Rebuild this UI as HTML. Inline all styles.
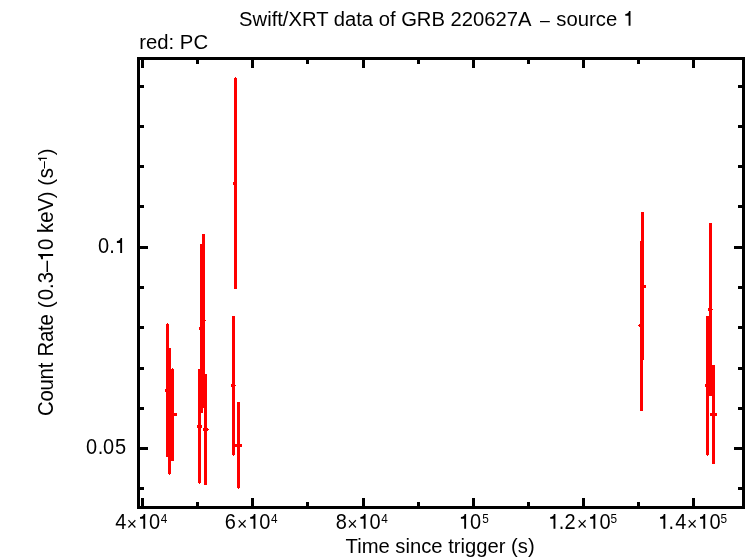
<!DOCTYPE html>
<html><head><meta charset="utf-8"><title>Swift/XRT light curve</title>
<style>
html,body{margin:0;padding:0;background:#fff;}
svg{display:block;will-change:transform;}
text{font-family:"Liberation Sans",sans-serif;fill:#000;}
</style></head>
<body>
<svg width="746" height="558" viewBox="0 0 746 558">
<rect x="0" y="0" width="746" height="558" fill="#fff"/>
<g shape-rendering="crispEdges">
<rect x="137" y="57" width="3" height="452" fill="#000"/>
<rect x="742" y="57" width="3" height="452" fill="#000"/>
<rect x="137" y="57" width="608" height="3" fill="#000"/>
<rect x="137" y="506" width="608" height="3" fill="#000"/>
<rect x="141" y="57" width="3" height="11" fill="#000"/>
<rect x="141" y="498" width="3" height="11" fill="#000"/>
<rect x="196" y="57" width="3" height="7" fill="#000"/>
<rect x="196" y="502" width="3" height="7" fill="#000"/>
<rect x="251" y="57" width="3" height="11" fill="#000"/>
<rect x="251" y="498" width="3" height="11" fill="#000"/>
<rect x="306" y="57" width="3" height="7" fill="#000"/>
<rect x="306" y="502" width="3" height="7" fill="#000"/>
<rect x="362" y="57" width="3" height="11" fill="#000"/>
<rect x="362" y="498" width="3" height="11" fill="#000"/>
<rect x="417" y="57" width="3" height="7" fill="#000"/>
<rect x="417" y="502" width="3" height="7" fill="#000"/>
<rect x="472" y="57" width="3" height="11" fill="#000"/>
<rect x="472" y="498" width="3" height="11" fill="#000"/>
<rect x="527" y="57" width="3" height="7" fill="#000"/>
<rect x="527" y="502" width="3" height="7" fill="#000"/>
<rect x="582" y="57" width="3" height="11" fill="#000"/>
<rect x="582" y="498" width="3" height="11" fill="#000"/>
<rect x="637" y="57" width="3" height="7" fill="#000"/>
<rect x="637" y="502" width="3" height="7" fill="#000"/>
<rect x="692" y="57" width="3" height="11" fill="#000"/>
<rect x="692" y="498" width="3" height="11" fill="#000"/>
<rect x="137" y="85" width="7" height="3" fill="#000"/>
<rect x="738" y="85" width="7" height="3" fill="#000"/>
<rect x="137" y="125" width="7" height="3" fill="#000"/>
<rect x="738" y="125" width="7" height="3" fill="#000"/>
<rect x="137" y="165" width="7" height="3" fill="#000"/>
<rect x="738" y="165" width="7" height="3" fill="#000"/>
<rect x="137" y="205" width="7" height="3" fill="#000"/>
<rect x="738" y="205" width="7" height="3" fill="#000"/>
<rect x="137" y="246" width="11" height="3" fill="#000"/>
<rect x="734" y="246" width="11" height="3" fill="#000"/>
<rect x="137" y="286" width="7" height="3" fill="#000"/>
<rect x="738" y="286" width="7" height="3" fill="#000"/>
<rect x="137" y="326" width="7" height="3" fill="#000"/>
<rect x="738" y="326" width="7" height="3" fill="#000"/>
<rect x="137" y="367" width="7" height="3" fill="#000"/>
<rect x="738" y="367" width="7" height="3" fill="#000"/>
<rect x="137" y="407" width="7" height="3" fill="#000"/>
<rect x="738" y="407" width="7" height="3" fill="#000"/>
<rect x="137" y="447" width="11" height="3" fill="#000"/>
<rect x="734" y="447" width="11" height="3" fill="#000"/>
<rect x="137" y="487" width="7" height="3" fill="#000"/>
<rect x="738" y="487" width="7" height="3" fill="#000"/>
<rect x="166" y="324" width="3" height="133" fill="#f00"/>
<rect x="168" y="348" width="3" height="126" fill="#f00"/>
<rect x="171" y="369" width="3" height="92" fill="#f00"/>
<rect x="198" y="369" width="3" height="114" fill="#f00"/>
<rect x="200" y="244" width="3" height="169" fill="#f00"/>
<rect x="202" y="234" width="3" height="174" fill="#f00"/>
<rect x="204" y="374" width="3" height="111" fill="#f00"/>
<rect x="234" y="78" width="3" height="211" fill="#f00"/>
<rect x="232" y="316" width="3" height="139" fill="#f00"/>
<rect x="237" y="402" width="3" height="86" fill="#f00"/>
<rect x="640" y="241" width="3" height="170" fill="#f00"/>
<rect x="641" y="212" width="3" height="148" fill="#f00"/>
<rect x="706" y="316" width="3" height="139" fill="#f00"/>
<rect x="709" y="223" width="3" height="173" fill="#f00"/>
<rect x="712" y="365" width="3" height="99" fill="#f00"/>
<rect x="165" y="389" width="4" height="3" fill="#f00"/>
<rect x="171" y="413" width="6" height="3" fill="#f00"/>
<rect x="197" y="425" width="5" height="3" fill="#f00"/>
<rect x="199" y="327" width="4" height="3" fill="#f00"/>
<rect x="203" y="428" width="5" height="3" fill="#f00"/>
<rect x="233" y="182" width="4" height="3" fill="#f00"/>
<rect x="231" y="384" width="4" height="3" fill="#f00"/>
<rect x="235" y="444" width="7" height="3" fill="#f00"/>
<rect x="639" y="324" width="4" height="3" fill="#f00"/>
<rect x="641" y="285" width="5" height="3" fill="#f00"/>
<rect x="705" y="384" width="4" height="3" fill="#f00"/>
<rect x="708" y="308" width="4" height="3" fill="#f00"/>
<rect x="710" y="413" width="7" height="3" fill="#f00"/>
<rect x="167" y="323" width="1" height="1" fill="#f00"/>
<rect x="169" y="474" width="1" height="1" fill="#f00"/>
<rect x="172" y="368" width="1" height="1" fill="#f00"/>
<rect x="199" y="483" width="1" height="1" fill="#f00"/>
<rect x="235" y="77" width="1" height="1" fill="#f00"/>
<rect x="233" y="455" width="1" height="1" fill="#f00"/>
<rect x="238" y="488" width="1" height="1" fill="#f00"/>
<rect x="205" y="320" width="1" height="1" fill="#f00"/>
<rect x="638" y="325" width="1" height="1" fill="#f00"/>
<rect x="707" y="455" width="1" height="1" fill="#f00"/>
<rect x="208" y="429" width="1" height="1" fill="#f00"/>
<rect x="712" y="309" width="1" height="1" fill="#f00"/>
<rect x="235" y="385" width="1" height="1" fill="#f00"/>
</g>
<g fill="#000">
<text transform="translate(239.08,25.80) scale(1.0,1.04)" font-size="20.22">Swift/XRT data of GRB 220627A</text>
<text transform="translate(540.05,25.80) scale(1.0,1.08)" font-size="17.7">–</text>
<text transform="translate(556.34,25.80) scale(1.0,1.04)" font-size="20.3">source</text>
<path transform="translate(630.50,25.80)" d="M0,0 L0,-14.90 L-1.50,-14.90 C-1.70,-13.20 -2.70,-12.00 -5.20,-11.90 L-5.20,-10.10 L-1.90,-10.10 L-1.90,0 Z"/>
<text transform="translate(139.29,48.80) scale(1.0,1.04)" font-size="20.3">red: PC</text>
<text transform="translate(345.55,552.80) scale(1.0,1.04)" font-size="20.24">Time since trigger (s)</text>
<text transform="translate(115.34,528.80) scale(1.0,1.075)" font-size="20.0">4</text>
<text transform="translate(126.78,530.20) scale(1.0,1.0)" font-size="17.6">×</text>
<path transform="translate(145.20,528.80)" d="M0,0 L0,-14.90 L-1.50,-14.90 C-1.70,-13.20 -2.70,-12.00 -5.20,-11.90 L-5.20,-10.10 L-1.90,-10.10 L-1.90,0 Z"/>
<text transform="translate(149.12,528.80) scale(1.0,1.075)" font-size="20.0">0</text>
<text transform="translate(160.83,522.90) scale(1.0,1.1)" font-size="11.8">4</text>
<text transform="translate(224.68,528.80) scale(1.0,1.075)" font-size="20.0">6</text>
<text transform="translate(236.98,530.20) scale(1.0,1.0)" font-size="17.6">×</text>
<path transform="translate(255.40,528.80)" d="M0,0 L0,-14.90 L-1.50,-14.90 C-1.70,-13.20 -2.70,-12.00 -5.20,-11.90 L-5.20,-10.10 L-1.90,-10.10 L-1.90,0 Z"/>
<text transform="translate(259.32,528.80) scale(1.0,1.075)" font-size="20.0">0</text>
<text transform="translate(271.03,522.90) scale(1.0,1.1)" font-size="11.8">4</text>
<text transform="translate(335.73,528.80) scale(1.0,1.075)" font-size="20.0">8</text>
<text transform="translate(347.18,530.20) scale(1.0,1.0)" font-size="17.6">×</text>
<path transform="translate(365.60,528.80)" d="M0,0 L0,-14.90 L-1.50,-14.90 C-1.70,-13.20 -2.70,-12.00 -5.20,-11.90 L-5.20,-10.10 L-1.90,-10.10 L-1.90,0 Z"/>
<text transform="translate(369.52,528.80) scale(1.0,1.075)" font-size="20.0">0</text>
<text transform="translate(381.23,522.90) scale(1.0,1.1)" font-size="11.8">4</text>
<path transform="translate(466.10,528.80)" d="M0,0 L0,-14.90 L-1.50,-14.90 C-1.70,-13.20 -2.70,-12.00 -5.20,-11.90 L-5.20,-10.10 L-1.90,-10.10 L-1.90,0 Z"/>
<text transform="translate(470.12,528.80) scale(1.0,1.075)" font-size="20.0">0</text>
<text transform="translate(482.23,522.90) scale(1.0,1.1)" font-size="11.8">5</text>
<path transform="translate(555.40,528.80)" d="M0,0 L0,-14.90 L-1.50,-14.90 C-1.70,-13.20 -2.70,-12.00 -5.20,-11.90 L-5.20,-10.10 L-1.90,-10.10 L-1.90,0 Z"/>
<text transform="translate(558.67,528.80) scale(1.0,1.075)" font-size="20.0">.</text>
<text transform="translate(564.49,528.80) scale(1.0,1.075)" font-size="20.0">2</text>
<text transform="translate(576.98,530.20) scale(1.0,1.0)" font-size="17.6">×</text>
<path transform="translate(595.30,528.80)" d="M0,0 L0,-14.90 L-1.50,-14.90 C-1.70,-13.20 -2.70,-12.00 -5.20,-11.90 L-5.20,-10.10 L-1.90,-10.10 L-1.90,0 Z"/>
<text transform="translate(599.52,528.80) scale(1.0,1.075)" font-size="20.0">0</text>
<text transform="translate(610.53,522.90) scale(1.0,1.1)" font-size="11.8">5</text>
<path transform="translate(665.30,528.80)" d="M0,0 L0,-14.90 L-1.50,-14.90 C-1.70,-13.20 -2.70,-12.00 -5.20,-11.90 L-5.20,-10.10 L-1.90,-10.10 L-1.90,0 Z"/>
<text transform="translate(668.57,528.80) scale(1.0,1.075)" font-size="20.0">.</text>
<text transform="translate(675.34,528.80) scale(1.0,1.075)" font-size="20.0">4</text>
<text transform="translate(686.88,530.20) scale(1.0,1.0)" font-size="17.6">×</text>
<path transform="translate(705.20,528.80)" d="M0,0 L0,-14.90 L-1.50,-14.90 C-1.70,-13.20 -2.70,-12.00 -5.20,-11.90 L-5.20,-10.10 L-1.90,-10.10 L-1.90,0 Z"/>
<text transform="translate(709.42,528.80) scale(1.0,1.075)" font-size="20.0">0</text>
<text transform="translate(720.43,522.90) scale(1.0,1.1)" font-size="11.8">5</text>
<text transform="translate(98.02,253.00) scale(1.0,1.075)" font-size="20.0">0.</text>
<path transform="translate(122.10,253.00)" d="M0,0 L0,-14.90 L-1.50,-14.90 C-1.70,-13.20 -2.70,-12.00 -5.20,-11.90 L-5.20,-10.10 L-1.90,-10.10 L-1.90,0 Z"/>
<text transform="translate(85.92,454.00) scale(1.0,1.075)" font-size="20.0">0</text>
<text transform="translate(97.77,454.00) scale(1.0,1.075)" font-size="20.0">.</text>
<text transform="translate(103.02,454.00) scale(1.0,1.075)" font-size="20.0">0</text>
<text transform="translate(115.10,454.00) scale(1.0,1.075)" font-size="20.0">5</text>
<text transform="translate(53.40,416.01) rotate(-90) scale(1.0,1.1)" font-size="20.3" letter-spacing="-0.2">Count</text>
<text transform="translate(53.40,356.47) rotate(-90) scale(1.0,1.1)" font-size="20.3" letter-spacing="-0.2">Rate</text>
<text transform="translate(53.40,308.16) rotate(-90) scale(1.0,1.0)" font-size="20.3">(</text>
<text transform="translate(53.40,300.19) rotate(-90) scale(1.0,1.1)" font-size="20.3">0.3–</text>
<path transform="translate(53.10,254.00) rotate(-90)" d="M0,0 L0,-15.00 L-1.51,-15.00 C-1.71,-13.29 -2.72,-12.08 -5.23,-11.98 L-5.23,-10.17 L-1.91,-10.17 L-1.91,0 Z"/>
<text transform="translate(53.40,249.89) rotate(-90) scale(1.0,1.1)" font-size="20.3">0 keV</text>
<text transform="translate(53.40,198.16) rotate(-90) scale(1.0,1.0)" font-size="20.3">)</text>
<text transform="translate(53.40,185.86) rotate(-90) scale(1.0,1.0)" font-size="20.3">(</text>
<text transform="translate(53.40,178.16) rotate(-90) scale(1.0,1.1)" font-size="20.3">s</text>
<text transform="translate(48.00,168.60) rotate(-90) scale(1.0,1.1)" font-size="13.2">–</text>
<path transform="translate(46.90,157.80) rotate(-90)" d="M0,0 L0,-8.80 L-0.89,-8.80 C-1.00,-7.80 -1.59,-7.09 -3.07,-7.03 L-3.07,-5.97 L-1.12,-5.97 L-1.12,0 Z"/>
<text transform="translate(53.40,155.26) rotate(-90) scale(1.0,1.0)" font-size="20.3">)</text>
</g>
</svg>
</body></html>
